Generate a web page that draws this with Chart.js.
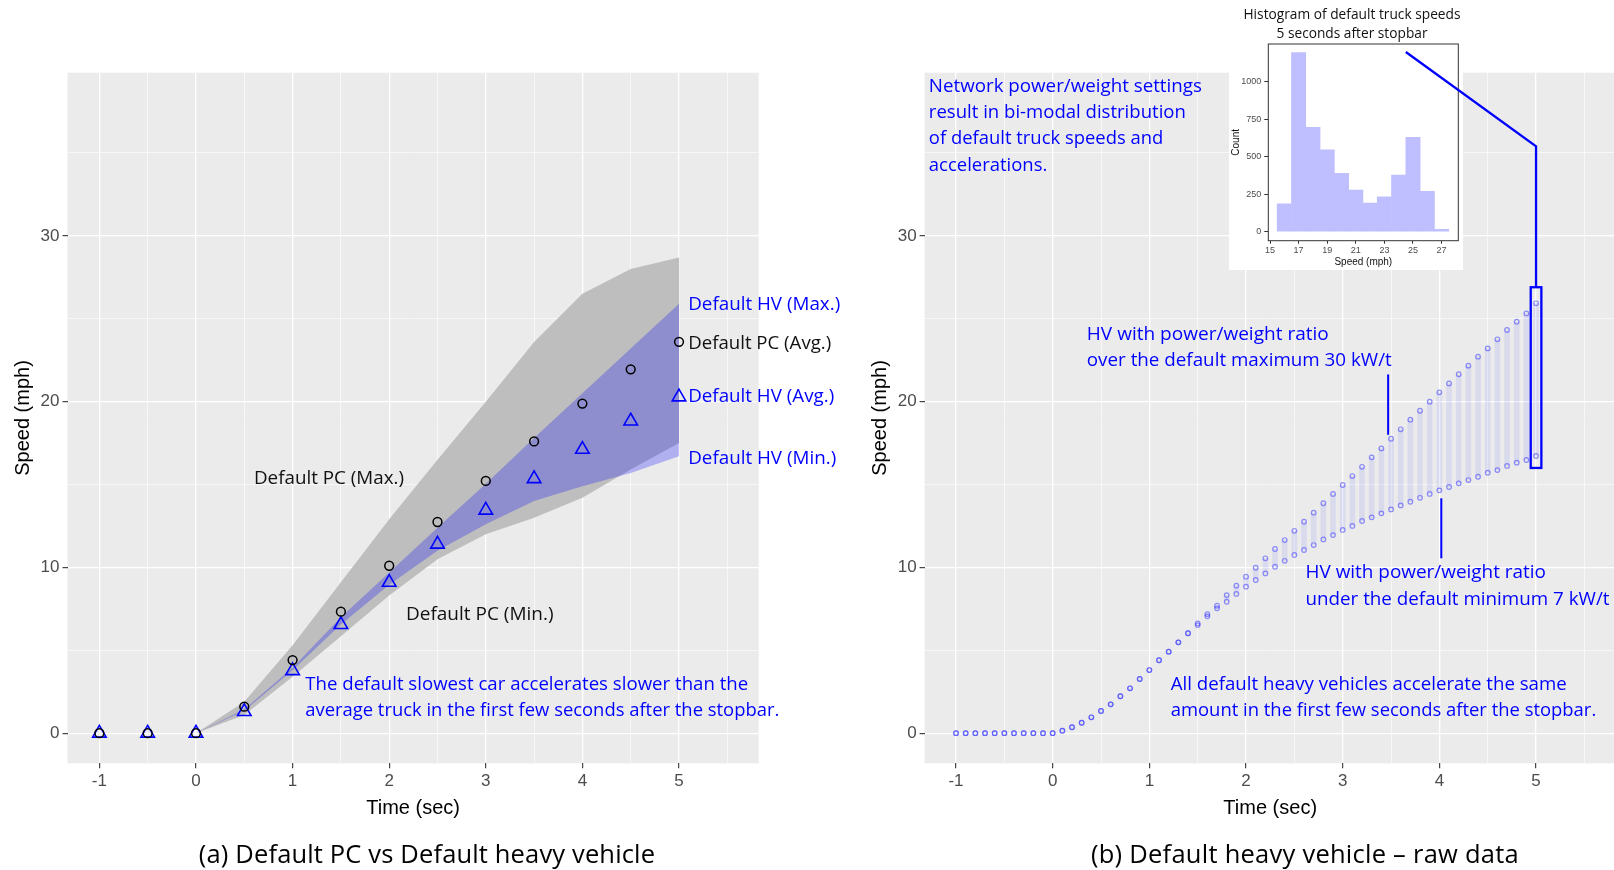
<!DOCTYPE html>
<html>
<head>
<meta charset="utf-8">
<title>Default PC vs default heavy vehicle speeds</title>
<script src="https://cdn.jsdelivr.net/npm/chart.js@4.4.1/dist/chart.umd.min.js"></script>
<style>
    html, body { margin: 0; padding: 0; background: #ffffff; overflow: hidden; }
    #page { position: relative; width: 1614px; height: 870px; overflow: hidden; }
    #page canvas { position: absolute; }
    .caption {
        position: absolute;
        top: 836px;
        width: 600px;
        line-height: 34px;
        text-align: center;
        white-space: nowrap;
        font-family: 'Open Sans', 'Noto Sans', sans-serif;
        font-size: 25.5px;
        color: #000000;
    }
</style>
</head>
<body>
<div id="page">
    <canvas id="pcChart" width="850" height="870" style="left:0;top:0"></canvas>
    <canvas id="rawChart" width="780" height="870" style="left:856px;top:0"></canvas>
    <canvas id="histChart" width="250" height="290" style="left:1228px;top:0"></canvas>
    <canvas id="callouts" width="1614" height="870" style="left:0;top:0;pointer-events:none"></canvas>
    <div class="caption" style="left:127px;letter-spacing:0.15px">(a) Default PC vs Default heavy vehicle</div>
    <div class="caption" style="left:1005px;letter-spacing:0.25px">(b) Default heavy vehicle – raw data</div>
</div>
<script>
// ---- (a) averages and min/max envelopes, every half second ----
const avgTimes = [-1, -0.5, 0, 0.5, 1, 1.5, 2, 2.5, 3, 3.5, 4, 4.5, 5];
const pcAvg = [0, 0, 0, 1.6, 4.41, 7.33, 10.1, 12.74, 15.22, 17.6, 19.88, 21.95, 23.61];
const hvAvg = [0, 0, 0, 1.3, 3.77, 6.55, 9.1, 11.4, 13.45, 15.35, 17.12, 18.83, 20.28];

const bandTimes = [0, 0.5, 1, 1.5, 2, 2.5, 3, 3.5, 4, 4.5, 5];
const pcMax = [0, 1.9, 5.3, 9.1, 12.9, 16.5, 20.0, 23.6, 26.5, 28.0, 28.7];
const pcMin = [0, 1.1, 3.4, 5.85, 8.3, 10.5, 12.0, 13.0, 14.2, 15.9, 17.5];
const hvMax = [0, 1.45, 3.95, 7.0, 9.7, 12.4, 15.05, 17.8, 20.5, 23.2, 25.9];
const hvMin = [0, 1.35, 3.8, 6.55, 8.95, 11.0, 12.6, 14.0, 14.9, 15.7, 16.7];

// ---- (b) raw heavy vehicle speeds, every 0.1 s: slowest and fastest truck ----
const rawTimes = [-1, -0.9, -0.8, -0.7, -0.6, -0.5, -0.4, -0.3, -0.2, -0.1,
    0, 0.1, 0.2, 0.3, 0.4, 0.5, 0.6, 0.7, 0.8, 0.9,
    1, 1.1, 1.2, 1.3, 1.4, 1.5, 1.6, 1.7, 1.8, 1.9,
    2, 2.1, 2.2, 2.3, 2.4, 2.5, 2.6, 2.7, 2.8, 2.9,
    3, 3.1, 3.2, 3.3, 3.4, 3.5, 3.6, 3.7, 3.8, 3.9,
    4, 4.1, 4.2, 4.3, 4.4, 4.5, 4.6, 4.7, 4.8, 4.9, 5];
const rawMin = [0, 0, 0, 0, 0, 0, 0, 0, 0, 0,
    0, 0.15, 0.36, 0.63, 0.96, 1.34, 1.74, 2.23, 2.71, 3.27,
    3.81, 4.40, 4.92, 5.48, 6.03, 6.52, 7.05, 7.53, 7.93, 8.40,
    8.84, 9.24, 9.64, 10.04, 10.40, 10.75, 11.05, 11.35, 11.69, 11.95,
    12.26, 12.50, 12.80, 13.02, 13.26, 13.50, 13.74, 13.96, 14.20, 14.43,
    14.65, 14.85, 15.07, 15.27, 15.47, 15.71, 15.87, 16.12, 16.32, 16.48, 16.72];
const rawMax = [0, 0, 0, 0, 0, 0, 0, 0, 0, 0,
    0, 0.15, 0.36, 0.63, 0.96, 1.34, 1.74, 2.23, 2.71, 3.27,
    3.81, 4.40, 4.92, 5.48, 6.03, 6.62, 7.18, 7.69, 8.33, 8.90,
    9.44, 9.98, 10.55, 11.11, 11.65, 12.21, 12.76, 13.30, 13.87, 14.43,
    14.97, 15.51, 16.07, 16.64, 17.18, 17.76, 18.33, 18.91, 19.45, 20.00,
    20.56, 21.10, 21.65, 22.17, 22.71, 23.21, 23.76, 24.32, 24.82, 25.32, 25.93];

// ---- inset: histogram of truck speeds 5 s after the stopbar (1 mph bins) ----
const histSpeeds = [16, 17, 18, 19, 20, 21, 22, 23, 24, 25, 26, 27];
const histCounts = [185, 1193, 696, 545, 389, 278, 191, 233, 378, 629, 269, 16];
const histSpeedTicks = [15, 17, 19, 21, 23, 25, 27];
const histCountTicks = [0, 250, 500, 750, 1000];

const BLUE = '#0000FF';
const noteFont = "19px 'Open Sans', 'Noto Sans', sans-serif";
const axisFamily = "'Liberation Sans', Arial, sans-serif";

// labels placed in data units (time, speed); width is the rendered line width
const pcNotes = [
    { text: 'Default HV (Max.)', x: 5.095, y: 25.83, width: 152, color: BLUE },
    { text: 'Default PC (Avg.)', x: 5.095, y: 23.52, width: 143, color: '#111111' },
    { text: 'Default HV (Avg.)', x: 5.095, y: 20.3, width: 146, color: BLUE },
    { text: 'Default HV (Min.)', x: 5.095, y: 16.58, width: 148, color: BLUE },
    { text: 'Default PC (Max.)', x: 0.6, y: 15.33, width: 150, color: '#111111' },
    { text: 'Default PC (Min.)', x: 2.174, y: 7.17, width: 147.5, color: '#111111' },
    { text: 'The default slowest car accelerates slower than the', x: 1.131, y: 2.95, width: 443, color: BLUE },
    { text: 'average truck in the first few seconds after the stopbar.', x: 1.131, y: 1.36, width: 474, color: BLUE }
];

const rawNotes = [
    { text: 'Network power/weight settings', x: -1.281, y: 39.03, width: 273, color: BLUE },
    { text: 'result in bi-modal distribution', x: -1.281, y: 37.45, width: 257, color: BLUE },
    { text: 'of default truck speeds and', x: -1.281, y: 35.84, width: 234.5, color: BLUE },
    { text: 'accelerations.', x: -1.281, y: 34.23, width: 118.5, color: BLUE },
    { text: 'HV with power/weight ratio', x: 0.353, y: 24.06, width: 242, color: BLUE },
    { text: 'over the default maximum 30 kW/t', x: 0.353, y: 22.45, width: 305, color: BLUE },
    { text: 'HV with power/weight ratio', x: 2.615, y: 9.68, width: 240.5, color: BLUE },
    { text: 'under the default minimum 7 kW/t', x: 2.615, y: 8.08, width: 304, color: BLUE },
    { text: 'All default heavy vehicles accelerate the same', x: 1.221, y: 2.95, width: 396, color: BLUE },
    { text: 'amount in the first few seconds after the stopbar.', x: 1.221, y: 1.36, width: 425.5, color: BLUE }
];

// callout from the t = 5 s column of (b) up to the histogram
const callout = {
    box: { tFrom: 4.945, tTo: 5.055, vFrom: 16.0, vTo: 26.9 },
    elbowSpeed: 35.4,
    histTarget: { speed: 24.5, count: 1198 },
    markers: [
        { t: 3.47, from: 18.0, to: 21.64 },
        { t: 4.02, from: 10.55, to: 14.17 }
    ]
};

// draws one line of text squeezed/stretched to a given width
function fitText(ctx, text, x, y, width, color, font, align) {
    ctx.save();
    ctx.font = font;
    ctx.fillStyle = color;
    ctx.textAlign = 'left';
    ctx.textBaseline = 'middle';
    const natural = ctx.measureText(text).width;
    const left = align === 'center' ? x - width / 2 : x;
    ctx.translate(left, y);
    ctx.scale(width / natural, 1);
    ctx.fillText(text, 0, 0);
    ctx.restore();
}

const panelBackground = {
    id: 'panelBackground',
    beforeDraw(chart) {
        const { ctx, chartArea } = chart;
        ctx.save();
        ctx.fillStyle = '#EBEBEB';
        ctx.fillRect(chartArea.left, chartArea.top, chartArea.right - chartArea.left, chartArea.bottom - chartArea.top);
        ctx.restore();
    }
};

function notesPlugin(items) {
    return {
        id: 'textNotes',
        afterDraw(chart) {
            const { ctx, scales } = chart;
            items.forEach(function(item) {
                fitText(ctx, item.text, scales.x.getPixelForValue(item.x), scales.y.getPixelForValue(item.y),
                    item.width, item.color, noteFont);
            });
        }
    };
}

function gridLines(isMajor) {
    return {
        color: '#FFFFFF',
        offset: false,
        lineWidth: (c) => (c.tick && isMajor(c.tick.value)) ? 1.3 : 0.6,
        tickColor: (c) => (c.tick && isMajor(c.tick.value)) ? '#333333' : 'rgba(0,0,0,0)',
        tickWidth: 1.1,
        tickLength: 5
    };
}

const isWholeSecond = (v) => Number.isInteger(v);
const isTenMph = (v) => v % 10 === 0;

// shared ggplot-like axes for both speed/time panels
function speedTimeScales(xMin, xMax, yAxisWidth, yTitleGap) {
    return {
        x: {
            type: 'linear',
            min: xMin,
            max: xMax,
            offset: false,
            border: { display: false },
            grid: gridLines(isWholeSecond),
            ticks: {
                stepSize: 0.5,
                includeBounds: false,
                autoSkip: false,
                maxRotation: 0,
                padding: 3,
                color: '#4D4D4D',
                font: { family: axisFamily, size: 17 },
                callback: (v) => isWholeSecond(v) ? String(v) : ''
            },
            title: {
                display: true,
                text: 'Time (sec)',
                color: '#000000',
                font: { family: axisFamily, size: 20 },
                padding: { top: 0, bottom: 49.7 }
            },
            afterFit: (scale) => { scale.height = 106.7; }
        },
        y: {
            type: 'linear',
            min: -1.815,
            max: 39.84,
            border: { display: false },
            grid: gridLines(isTenMph),
            ticks: {
                stepSize: 5,
                includeBounds: false,
                autoSkip: false,
                padding: 3,
                color: '#4D4D4D',
                font: { family: axisFamily, size: 17 },
                callback: (v) => isTenMph(v) ? String(v) : ''
            },
            title: {
                display: true,
                text: 'Speed (mph)',
                color: '#000000',
                font: { family: axisFamily, size: 20 },
                padding: { top: yTitleGap, bottom: 0 }
            },
            afterFit: (scale) => { scale.width = yAxisWidth; }
        }
    };
}

const toPoints = (xs, ys) => xs.map((x, i) => ({ x: x, y: ys[i] }));

const ribbonEdge = {
    type: 'line',
    pointRadius: 0,
    borderColor: 'rgba(0,0,0,0)',
    borderWidth: 0,
    tension: 0
};

// ---- (a) Default PC vs default heavy vehicle ----
const pcChart = new Chart(document.getElementById('pcChart'), {
    type: 'line',
    data: {
        datasets: [
            Object.assign({ label: 'Default PC (Max.)', data: toPoints(bandTimes, pcMax), fill: 1,
                backgroundColor: '#BEBEBE', order: 10 }, ribbonEdge),
            Object.assign({ label: 'Default PC (Min.)', data: toPoints(bandTimes, pcMin), fill: false,
                order: 10 }, ribbonEdge),
            Object.assign({ label: 'Default HV (Max.)', data: toPoints(bandTimes, hvMax), fill: 3,
                backgroundColor: 'rgba(0,0,255,0.25)', order: 9 }, ribbonEdge),
            Object.assign({ label: 'Default HV (Min.)', data: toPoints(bandTimes, hvMin), fill: false,
                order: 9 }, ribbonEdge),
            {
                label: 'Default HV (Avg.)',
                data: toPoints(avgTimes, hvAvg),
                showLine: false,
                pointStyle: 'triangle',
                pointRadius: 7.8,
                pointBorderColor: BLUE,
                pointBackgroundColor: 'rgba(0,0,0,0)',
                pointBorderWidth: 1.6,
                order: 2
            },
            {
                label: 'Default PC (Avg.)',
                data: toPoints(avgTimes, pcAvg),
                showLine: false,
                pointStyle: 'circle',
                pointRadius: 4.4,
                pointBorderColor: '#000000',
                pointBackgroundColor: 'rgba(0,0,0,0)',
                pointBorderWidth: 1.5,
                order: 1
            }
        ]
    },
    options: {
        responsive: false,
        animation: false,
        devicePixelRatio: 1,
        layout: { padding: { top: 72.7, left: 0, right: 91.3, bottom: 0 } },
        scales: speedTimeScales(-1.33, 5.825, 67.5, 11.5),
        plugins: {
            legend: { display: false },
            tooltip: { enabled: false }
        }
    },
    plugins: [panelBackground, notesPlugin(pcNotes)]
});

// ---- (b) Default heavy vehicle, raw data ----
const rawChart = new Chart(document.getElementById('rawChart'), {
    type: 'line',
    data: {
        datasets: [
            {
                label: 'Fastest truck',
                data: toPoints(rawTimes, rawMax),
                showLine: false,
                pointStyle: 'circle',
                pointRadius: 2.3,
                pointBorderWidth: 1.2,
                pointBorderColor: 'rgba(60,60,255,0.55)',
                pointBackgroundColor: 'rgba(0,0,0,0)',
                order: 1
            },
            {
                label: 'Slowest truck',
                data: toPoints(rawTimes, rawMin),
                showLine: false,
                pointStyle: 'circle',
                pointRadius: 2.3,
                pointBorderWidth: 1.2,
                pointBorderColor: 'rgba(60,60,255,0.55)',
                pointBackgroundColor: 'rgba(0,0,0,0)',
                order: 1
            },
            {
                type: 'bar',
                label: 'All trucks',
                data: rawTimes.map((t, i) => ({ x: t, y: [rawMin[i], rawMax[i]] })),
                backgroundColor: 'rgba(100,100,255,0.12)',
                borderWidth: 0,
                barThickness: 5,
                order: 3
            }
        ]
    },
    options: {
        responsive: false,
        animation: false,
        devicePixelRatio: 1,
        layout: { padding: { top: 72.7, left: 0, right: 20.2, bottom: 0 } },
        scales: speedTimeScales(-1.325, 5.825, 68.6, 12),
        plugins: {
            legend: { display: false },
            tooltip: { enabled: false }
        }
    },
    plugins: [panelBackground, notesPlugin(rawNotes)]
});

// ---- inset histogram ----
const histInset = {
    id: 'histInset',
    beforeDraw(chart) {
        const ctx = chart.ctx;
        ctx.save();
        ctx.fillStyle = '#FFFFFF';
        ctx.fillRect(1, 0, 234, 270);
        ctx.restore();
    },
    afterDraw(chart) {
        const { ctx, chartArea } = chart;
        ctx.save();
        ctx.strokeStyle = '#333333';
        ctx.lineWidth = 1;
        ctx.strokeRect(chartArea.left, chartArea.top, chartArea.right - chartArea.left, chartArea.bottom - chartArea.top);
        ctx.restore();
        const titleFont = "15px 'Open Sans', 'Noto Sans', sans-serif";
        fitText(ctx, 'Histogram of default truck speeds', 124, 15, 217, '#111111', titleFont, 'center');
        fitText(ctx, '5 seconds after stopbar', 124, 33.3, 151, '#111111', titleFont, 'center');
    }
};

const histChart = new Chart(document.getElementById('histChart'), {
    type: 'bar',
    data: {
        datasets: [{
            label: 'Count',
            data: toPoints(histSpeeds, histCounts),
            backgroundColor: '#BFBFFF',
            borderWidth: 0,
            barPercentage: 1,
            categoryPercentage: 1
        }]
    },
    options: {
        responsive: false,
        animation: false,
        devicePixelRatio: 1,
        layout: { padding: { top: 44, left: 0, right: 19.7, bottom: 0 } },
        scales: {
            x: {
                type: 'linear',
                min: 14.88,
                max: 28.17,
                offset: false,
                border: { display: false },
                grid: { drawOnChartArea: false, tickLength: 3, tickColor: '#333333', offset: false },
                afterBuildTicks: (scale) => { scale.ticks = histSpeedTicks.map((v) => ({ value: v })); },
                ticks: { padding: 1, maxRotation: 0, autoSkip: false, color: '#4D4D4D',
                    font: { family: axisFamily, size: 9 }, callback: (v) => String(v) },
                title: { display: true, text: 'Speed (mph)', color: '#111111',
                    font: { family: axisFamily, size: 10 }, padding: { top: 0, bottom: 21.7 } },
                afterFit: (scale) => { scale.height = 49.3; }
            },
            y: {
                type: 'linear',
                min: -60,
                max: 1251,
                border: { display: false },
                grid: { drawOnChartArea: false, tickLength: 4, tickColor: '#333333' },
                afterBuildTicks: (scale) => { scale.ticks = histCountTicks.map((v) => ({ value: v })); },
                ticks: { padding: 3, autoSkip: false, color: '#4D4D4D',
                    font: { family: axisFamily, size: 9 }, callback: (v) => String(v) },
                title: { display: true, text: 'Count', color: '#111111',
                    font: { family: axisFamily, size: 10 }, padding: { top: 2.7, bottom: 0 } },
                afterFit: (scale) => { scale.width = 40.3; }
            }
        },
        plugins: {
            legend: { display: false },
            tooltip: { enabled: false }
        }
    },
    plugins: [histInset]
});

// ---- callout box, leader line and marker ticks on top of everything ----
function drawCallouts() {
    const canvas = document.getElementById('callouts');
    const ctx = canvas.getContext('2d');
    const rawCanvas = rawChart.canvas;
    const histCanvas = histChart.canvas;
    const tx = (t) => rawCanvas.offsetLeft + rawChart.scales.x.getPixelForValue(t);
    const vy = (v) => rawCanvas.offsetTop + rawChart.scales.y.getPixelForValue(v);
    const hx = (s) => histCanvas.offsetLeft + histChart.scales.x.getPixelForValue(s);
    const hy = (c) => histCanvas.offsetTop + histChart.scales.y.getPixelForValue(c);

    ctx.strokeStyle = BLUE;
    ctx.lineWidth = 2.3;

    const b = callout.box;
    ctx.strokeRect(tx(b.tFrom), vy(b.vTo), tx(b.tTo) - tx(b.tFrom), vy(b.vFrom) - vy(b.vTo));

    const midT = (b.tFrom + b.tTo) / 2;
    ctx.beginPath();
    ctx.moveTo(tx(midT), vy(b.vTo));
    ctx.lineTo(tx(midT), vy(callout.elbowSpeed));
    ctx.lineTo(hx(callout.histTarget.speed), hy(callout.histTarget.count));
    ctx.stroke();

    ctx.lineWidth = 2;
    callout.markers.forEach(function(m) {
        ctx.beginPath();
        ctx.moveTo(tx(m.t), vy(m.from));
        ctx.lineTo(tx(m.t), vy(m.to));
        ctx.stroke();
    });
}

drawCallouts();
</script>
</body>
</html>
